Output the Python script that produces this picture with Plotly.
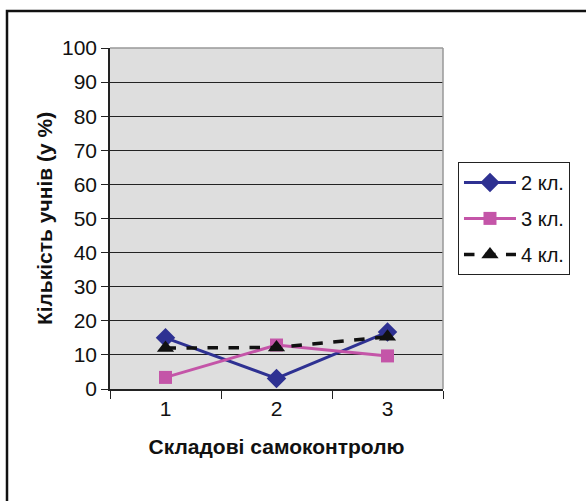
import plotly.graph_objects as go

categories = ["1", "2", "3"]
series_names = ["2 кл.", "3 кл.", "4 кл."]
s2 = [15.0, 3.1, 16.7]
s3 = [3.4, 12.9, 9.7]
s4 = [12.0, 12.2, 15.3]
y_title = "Кількість учнів (у %)"
x_title = "Складові самоконтролю"

FONT = "Liberation Sans, Arial, sans-serif"

fig = go.Figure()
fig.add_trace(go.Scatter(x=categories, y=s2, name=series_names[0], mode="lines+markers",
                         line=dict(color="#2E3192", width=3),
                         marker=dict(symbol="diamond", size=15, color="#2E3192"),
                         legendgroup="a"))
fig.add_trace(go.Scatter(x=categories, y=s3, name=series_names[1], mode="lines+markers",
                         line=dict(color="#C455A8", width=3),
                         marker=dict(symbol="square", size=13, color="#C455A8"),
                         legendgroup="b"))
fig.add_trace(go.Scatter(x=categories, y=s4, name=series_names[2], mode="lines+markers",
                         line=dict(color="#111111", width=3.5, dash="dash"),
                         marker=dict(symbol="triangle-up", size=15, color="#111111"),
                         legendgroup="c"))

fig.update_layout(
    width=586, height=501,
    margin=dict(l=110, r=143, t=48, b=112, autoexpand=False),
    paper_bgcolor="white",
    plot_bgcolor="#DEDEDE",
    font=dict(family=FONT, size=21, color="#111"),
    showlegend=True,
    legend=dict(x=1.045, y=0.666, xanchor="left", yanchor="top",
                bordercolor="#222", borderwidth=1, bgcolor="white",
                font=dict(size=20), traceorder="grouped", tracegroupgap=7,
                itemwidth=52),
    xaxis=dict(type="category", range=[-0.5, 2.5], tickson="boundaries", ticks="outside", ticklen=8,
               tickcolor="#222", showline=True, linecolor="#222", linewidth=1.5,
               showgrid=False, tickfont=dict(size=21),
               title=dict(text="<b>" + x_title + "</b>", font=dict(size=21), standoff=20)),
    yaxis=dict(range=[0, 100], dtick=10, ticks="outside", ticklen=7, tickcolor="#222",
               showline=True, linecolor="#222", linewidth=1.5,
               gridcolor="#222", gridwidth=1, zeroline=False, tickfont=dict(size=21),
               title=dict(text="<b>" + y_title + "</b>", font=dict(size=21), standoff=4)),
    shapes=[
        dict(type="line", xref="paper", yref="paper", x0=0, x1=1, y0=1, y1=1,
             line=dict(color="#999", width=1.5), layer="above"),
        dict(type="line", xref="paper", yref="paper", x0=1, x1=1, y0=0, y1=1,
             line=dict(color="#999", width=1.5), layer="above"),
        dict(type="rect", xref="paper", yref="paper", x0=(7 - 110) / 333, x1=(600 - 110) / 333,
             y0=(389 - 510) / 341, y1=(389 - 11) / 341, line=dict(color="#111", width=2.5)),
    ],
)

fig.write_html("out.html")
